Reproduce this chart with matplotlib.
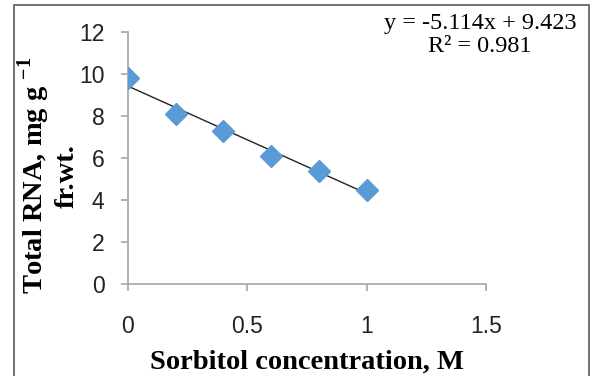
import matplotlib
matplotlib.use("Agg")
import matplotlib.pyplot as plt
from matplotlib.patches import Rectangle
import numpy as np

# data
sorbitol = [0.0, 0.2, 0.4, 0.6, 0.8, 1.0]
total_rna = [9.8, 8.1, 7.3, 6.1, 5.4, 4.5]
slope, intercept = -5.114, 9.423
r_squared = 0.981

xticks = [0, 0.5, 1, 1.5]
xtick_labels = ["0", "0.5", "1", "1.5"]
yticks = [0, 2, 4, 6, 8, 10, 12]

plt.rcParams['mathtext.fontset'] = 'custom'
plt.rcParams['mathtext.rm'] = 'Liberation Serif'
plt.rcParams['mathtext.bf'] = 'Liberation Serif:bold'

fig = plt.figure(figsize=(5.94, 3.76), dpi=100)
ax = fig.add_axes([128 / 594, 1 - 284 / 376, 358 / 594, 252 / 376])

# outer frame of the chart area (bottom edge runs off the image)
fig.patches.append(Rectangle((14 / 594, -0.1), (589 - 14) / 594, 1.1 - 5 / 376,
                             transform=fig.transFigure, fill=False,
                             edgecolor='#595959', linewidth=1.2))

ax.plot(sorbitol, total_rna, linestyle='none', marker='D', markersize=11,
        color='#5B9BD5', zorder=3)

# linear trend line
xfit = np.array([sorbitol[0], sorbitol[-1]])
ax.plot(xfit, slope * xfit + intercept, color='#222222', linewidth=1, zorder=2)

ax.set_xlim(0, 1.5)
ax.set_ylim(0, 12)
ax.set_xticks(xticks)
ax.set_xticklabels(xtick_labels)
ax.set_yticks(yticks)

for side in ['top', 'right']:
    ax.spines[side].set_visible(False)
for side in ['left', 'bottom']:
    ax.spines[side].set_color('#A6A6A6')
    ax.spines[side].set_linewidth(1.2)

ax.tick_params(axis='both', direction='out', length=5, width=1.2, color='#A6A6A6',
               labelsize=16.5, labelcolor='#222222')
ax.tick_params(axis='y', pad=12)
ax.tick_params(axis='x', pad=17)
for lab in ax.get_xticklabels() + ax.get_yticklabels():
    lab.set_fontfamily('Liberation Sans')

ax.set_xlabel('Sorbitol concentration, M', fontfamily='Liberation Serif',
              fontweight='bold', fontsize=20.5, va='center')
ax.xaxis.set_label_coords(0.5, -0.31)

ax.set_ylabel('Total RNA, mg g $^{\\mathbf{-1}}$\nfr.wt.', fontfamily='Liberation Serif',
              fontweight='bold', fontsize=20.5, va='center', ha='center',
              multialignment='center', linespacing=1.15)
ax.yaxis.set_label_coords(-0.225, 0.43)

# trend line equation
fig.text(480 / 594, 1 - 29 / 376, f'y = {slope:.3f}x + {intercept:.3f}',
         fontfamily='Liberation Serif', fontsize=17.5, ha='center', va='baseline')
fig.text(480 / 594, 1 - 52 / 376, f'R² = {r_squared:.3f}',
         fontfamily='Liberation Serif', fontsize=17.5, ha='center', va='baseline')

fig.savefig('out.png', dpi=100)
